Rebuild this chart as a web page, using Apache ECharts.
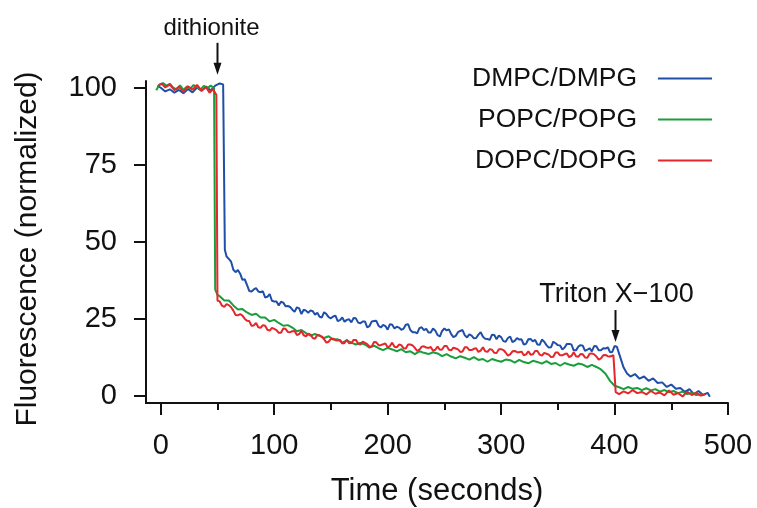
<!DOCTYPE html>
<html>
<head>
<meta charset="utf-8">
<script src="https://cdn.jsdelivr.net/npm/echarts@6/dist/echarts.min.js"></script>
<style>
html,body{margin:0;padding:0;background:#fff;}
#chart{width:757px;height:508px;}
</style>
</head>
<body>
<div id="chart"></div>
<script>
// ---------- data ----------
const seriesNames = ['DMPC/DMPG', 'POPC/POPG', 'DOPC/DOPG'];

const blueTime = [-3,0,4,8,12,16,20,24,28,32,36,40,44,48,52,55,56.5,58,
  60,62,64,66,68,70,72,74,76,78,80,82,84,86,88,90,92,94,96,98,
  100,102,104,106,108,110,112,114,116,118,120,122,124,126,128,130,132,134,136,138,140,142,144,146,148,150,152,154,156,158,160,162,164,166,168,170,172,174,176,178,180,182,184,186,188,190,192,194,196,198,
  200,202,204,206,208,210,212,214,216,218,220,222,224,226,228,230,232,234,236,238,240,242,244,246,248,250,252,254,256,258,260,262,264,266,268,270,272,274,276,278,280,282,284,286,288,290,292,294,296,298,
  300,302,304,306,308,310,312,314,316,318,320,322,324,326,328,330,332,334,336,338,340,342,344,346,348,350,352,354,356,358,360,362,364,366,368,370,372,374,376,378,380,382,384,386,388,390,392,394,396,398,
  400,402,405,408,411,414,418,422,426,430,434,438,442,446,450,454,458,462,466,470,474,478,482,484];
const blueValue = [100.8,100.1,98.9,99.6,98.5,99.4,98.3,99.7,98.6,100.2,99.1,100.5,99.2,100.8,101.5,101.2,47.5,45.3,
  44.5,43.6,41.0,40.2,40.9,39.7,37.7,37.9,36.1,34.1,33.9,34.6,35.0,33.9,33.7,34.0,32.0,32.2,33.1,30.9,
  30.7,30.7,29.4,30.6,30.3,29.1,29.2,28.9,28.0,27.3, 28.8,28.4,26.6,28.0,27.7,27.0,27.8,27.5,26.4,27.0,
  25.7,25.5,27.2,26.6,25.6,25.2,25.8,26.1,24.3,24.6, 25.5,24.1,24.7,24.9,23.9,25.3,25.2,23.8,23.6,24.2,
  24.2,22.3,22.7,24.2,24.3,24.4,22.8,22.2,23.1,22.7,
  21.5,23.3,23.1,21.9,22.5,22.2,21.5,21.8,23.1,23.3, 21.4,20.7,20.7,20.3,22.0,22.3,21.4,21.8,20.6,20.6,
  21.9,21.2,19.8,19.3,21.1,21.9,21.3,21.6,20.1,19.1, 19.5,20.7,21.1,21.4,19.7,19.0,20.0,19.6,18.7,18.8,
  19.9,20.7,19.2,18.6,18.5,18.2,19.9,19.8,18.4,19.6,
  19.1,17.8,17.6,18.8,19.3,17.5,17.9,18.8,18.3,18.4, 16.7,16.9,18.4,18.5,17.7,18.2,16.7,16.6,18.3,17.6,
  16.5,15.7,15.8,17.6,17.1,16.5,16.4,15.1,15.7,16.9, 16.9,16.7,14.8,14.8,16.0,16.5,16.3,14.6,15.0,15.5,
  14.5,16.2,16.1,14.8,14.8,15.5,15.4,15.8,14.2,14.3,
  16.2,16.0,12.6,9.2,7.3,6.3,7.1,5.6,6.3,4.9,5.7,4.2,4.4,2.9,3.7,2.3,2.6,1.3,2.2,0.6,1.6,0.3,1.0,-0.3];

const greenTime = [-4,-1,2,5,8,11,14,17,20,23,26,29,32,35,38,41,44,47,48,50,
  52,56,60,64,68,72,76,80,84,88,92,96,100,104,108,112,116,120,124,128,132,136,140,144,148,152,156,160,164,168,172,176,180,184,188,192,196,200,204,208,212,216,220,224,228,232,236,240,244,248,252,256,260,264,268,272,276,280,284,288,292,296,300,304,308,312,316,320,324,328,332,336,340,344,348,352,356,360,364,368,372,376,380,384,
  388,392,396,400,404,408,412,416,420,424,428,432,436,440,444,448,452,456,460,464,468,472,476,478];
const greenValue = [99.3,101.2,101.6,100.8,101.4,100.1,99.6,100.9,99.4,100.5,99.8,101.0,100.2,99.5,100.7,99.9,100.8,100.0,34.5,32.8,
  32.4,31.0,31.0,29.4,28.1,28.2,27.1,26.3,26.7,25.5,
  25.5,24.2,24.7,23.7,22.8,23.0,22.2,21.0,21.4,20.4,
  19.6,20.1,19.5,18.8,19.4,18.3,18.4,17.3,18.0,17.3,
  16.7,17.2,16.7,15.7,16.3,15.5,14.9,15.6,15.1,14.5,
  15.2,14.2,14.5,13.6,14.5,14.0,13.6,14.2,13.8,12.9,
  13.6,12.8,12.2,12.9,12.4,11.8,12.6,11.7,12.0,11.1,
  12.0,11.5,11.1,11.8,11.6,10.8,11.7,11.0,10.6,11.4,
  11.0,10.5,11.3,10.4,10.7,9.8,10.7,10.2,9.8,10.5,
  10.2,9.4,10.1,9.4,
  8.6,7.2,4.9,3.3,2.8,2.2,2.9,2.3,2.6,1.9,2.5,1.8,2.2,1.4,1.9,1.2,1.6,0.9,1.4,0.6,1.0,0.3,0.5,0.1];

const redTime = [-2,1,4,8,12,16,20,24,28,32,36,40,43,46,49,50,
  52,54,56,58,60,62,64,66,68,70,72,74,76,78,80,82,84,86,88,90,92,94,96,98,
  100,102,104,106,108,110,112,114,116,118,120,122,124,126,128,130,132,134,136,138,140,142,144,146,148,150,152,154,156,158,160,162,164,166,168,170,172,174,176,178,180,182,184,186,188,190,192,194,196,198,
  200,202,204,206,208,210,212,214,216,218,220,222,224,226,228,230,232,234,236,238,240,242,244,246,248,250,252,254,256,258,260,262,264,266,268,270,272,274,276,278,280,282,284,286,288,290,292,294,296,298,
  300,302,304,306,308,310,312,314,316,318,320,322,324,326,328,330,332,334,336,338,340,342,344,346,348,350,352,354,356,358,360,362,364,366,368,370,372,374,376,378,380,382,384,386,388,390,392,394,396,
  399,401,404,408,412,416,420,424,428,432,436,440,444,448,452,456,460,464,468,472,476,480];
const redValue = [100.9,101.4,100.2,101.1,99.3,100.4,98.8,100.6,99.5,101.0,99.2,100.3,98.5,99.6,97.8,31.0,
  30.7,29.3,28.9,29.8,29.5,28.8,27.7,26.3,26.2,26.6,26.1,25.1,24.4,24.3,22.8,22.9,23.7,22.3,22.1,23.0,22.8,21.5,21.2,22.1,
  21.8,21.4,20.5,20.5,21.9,21.8,20.8,20.7,21.0,21.1, 19.8,20.1,21.1,19.7,19.4,20.2,19.9,18.8,18.6,19.8,
  19.7,19.3,18.4,17.3,17.6,18.5,18.6,18.1,18.0,18.2, 17.0,17.2,18.2,17.1,17.2,18.2,18.2,17.0,16.7,17.6,
  17.2,16.8,16.0,16.1,17.5,17.4,16.5,16.5,16.8,17.0,
  15.8,16.2,17.3,16.0,15.8,16.7,16.5,15.5,15.4,16.7, 16.7,16.4,15.6,14.6,15.0,16.0,16.1,15.7,15.6,15.9,
  14.7,15.0,16.0,15.0,15.1,16.2,16.2,15.0,14.8,15.7, 15.4,15.1,14.3,14.4,15.8,15.8,14.9,14.9,15.3,15.5,
  14.3,14.7,15.8,14.5,14.3,15.2,15.0,14.0,13.9,15.2,
  15.2,14.9,14.1,13.1,13.5,14.5,14.6,14.2,14.2,14.4, 13.2,13.5,14.5,13.4,13.5,14.6,14.6,13.4,13.1,14.0,
  13.7,13.4,12.6,12.7,14.1,14.1,13.2,13.2,13.6,13.8, 12.6,13.0,14.2,12.9,12.7,13.6,13.5,12.5,12.4,13.7,
  13.8,13.5,12.8,11.8,12.2,13.2,13.3,12.9,12.8,
  13.2,1.2,0.6,1.5,0.8,1.9,0.9,1.3,0.5,1.6,0.7,1.1,0.2,1.8,0.4,0.9,-0.2,1.4,0.3,1.0,0.1,0.6];

const xMajorTicks = [0, 100, 200, 300, 400, 500];
const xMinorTicks = [50, 150, 250, 350, 450];
const yTicks = [0, 25, 50, 75, 100];

const annotationText = ['dithionite', 'Triton X\u2212100'];
const annotationTime = [50, 400];
const annotationLevel = [104.3, 17.5];

// ---------- chart ----------
const FONT = "'Liberation Sans', Arial, Helvetica, sans-serif";
const INK = '#111';
const colors = ['#1f4fa8', '#1a9e3c', '#e5262b'];

function zip(t, v) { return t.map((x, i) => [x, v[i]]); }

const chart = echarts.init(document.getElementById('chart'), null, {renderer: 'canvas'});

const baseX = {
  type: 'value', min: -13, max: 500, position: 'bottom', gridIndex: 0,
  splitLine: {show: false}
};

chart.setOption({
  animation: false,
  backgroundColor: '#fff',
  textStyle: {fontFamily: FONT},
  grid: {left: 146, right: 29, top: 81, bottom: 105, containLabel: false, outerBoundsMode: 'none'},
  legend: {
    orient: 'vertical', left: 472, top: 63.5, align: 'right', padding: 0,
    icon: 'rect', itemWidth: 54, itemHeight: 2, itemGap: 11,
    data: seriesNames,
    textStyle: {fontFamily: FONT, fontSize: 26.5, color: INK, width: 165, lineHeight: 30, padding: [0, 16, 0, 0]}
  },
  xAxis: [
    Object.assign({}, baseX, {
      axisLine: {show: true, onZero: false, lineStyle: {color: INK, width: 2}},
      axisTick: {show: true, customValues: xMajorTicks, length: 12, lineStyle: {color: INK, width: 2}},
      axisLabel: {customValues: xMajorTicks, fontSize: 29, color: INK, margin: 28, fontFamily: FONT},
      name: 'Time (seconds)', nameLocation: 'middle', nameGap: 73,
      nameTextStyle: {fontSize: 31, color: INK, fontFamily: FONT}
    }),
    Object.assign({}, baseX, {
      axisLine: {show: false, onZero: false},
      axisTick: {show: true, customValues: xMinorTicks, length: 7, lineStyle: {color: INK, width: 2}},
      axisLabel: {show: false}
    })
  ],
  yAxis: {
    type: 'value', min: -2.3, max: 102.3,
    splitLine: {show: false},
    axisLine: {show: true, onZero: false, lineStyle: {color: INK, width: 2}},
    axisTick: {show: true, customValues: yTicks, length: 12, lineStyle: {color: INK, width: 2}},
    axisLabel: {customValues: yTicks, fontSize: 29, color: INK, margin: 29, fontFamily: FONT},
    name: 'Fluorescence (normalized)', nameLocation: 'middle', nameGap: 103,
    nameTextStyle: {fontSize: 30, color: INK, fontFamily: FONT, padding: [0, 14, 0, 0]}
  },
  series: [
    {name: seriesNames[0], type: 'line', xAxisIndex: 0, data: zip(blueTime, blueValue), symbol: 'none', color: colors[0], lineStyle: {width: 2, color: colors[0]}, z: 2},
    {name: seriesNames[1], type: 'line', xAxisIndex: 0, data: zip(greenTime, greenValue), symbol: 'none', color: colors[1], lineStyle: {width: 2, color: colors[1]}, z: 3},
    {name: seriesNames[2], type: 'line', xAxisIndex: 0, data: zip(redTime, redValue), symbol: 'none', color: colors[2], lineStyle: {width: 2, color: colors[2]}, z: 4}
  ]
});

// annotations (arrows + labels), positioned through the chart's own scales
const annoStyle = [
  {fontSize: 24, dx: -6},
  {fontSize: 27, dx: 1}
];
const graphics = [];
annotationText.forEach((txt, i) => {
  const p = chart.convertToPixel({xAxisIndex: 0, yAxisIndex: 0}, [annotationTime[i], annotationLevel[i]]);
  const x = Math.round(p[0]) + 0.5, tipY = p[1];
  const len = 32, headH = 12, headW = 8;
  graphics.push({
    type: 'line', silent: true,
    shape: {x1: x, y1: tipY - len, x2: x, y2: tipY - headH + 1},
    style: {stroke: INK, lineWidth: 2}
  });
  graphics.push({
    type: 'polygon', silent: true,
    shape: {points: [[x - headW / 2, tipY - headH], [x + headW / 2, tipY - headH], [x, tipY]]},
    style: {fill: INK}
  });
  graphics.push({
    type: 'text', silent: true,
    x: x + annoStyle[i].dx, y: tipY - len - 2,
    style: {text: txt, fontSize: annoStyle[i].fontSize, fontFamily: FONT, fill: INK, align: 'center', verticalAlign: 'bottom'}
  });
});
chart.setOption({graphic: graphics});
</script>
</body>
</html>
